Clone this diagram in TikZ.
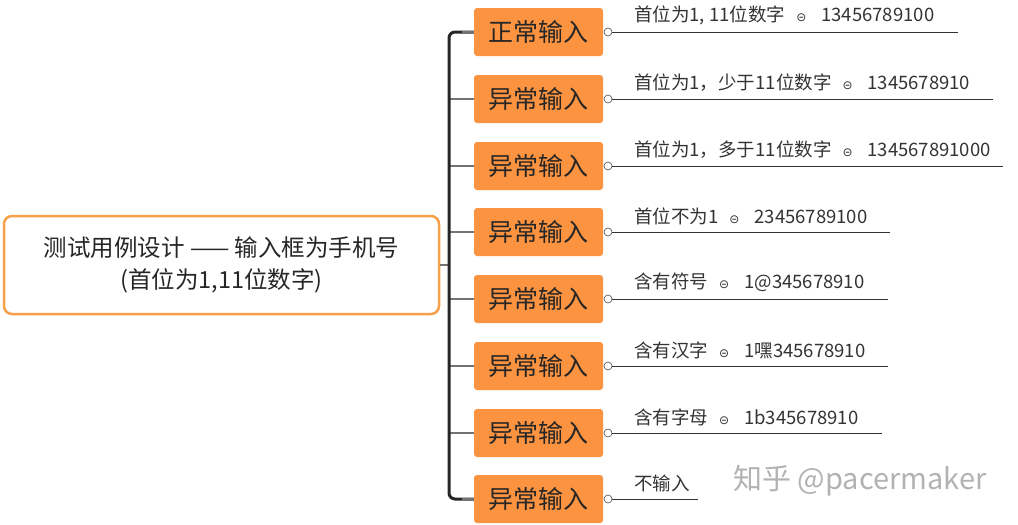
\documentclass[tikz,border=0pt]{standalone}
\usepackage{fontspec}
\setmainfont{Noto Sans CJK SC}
\newfontfamily\dv{DejaVu Sans}
\newcommand{\sepmark}{\hspace{11pt}{\dv\fontsize{12}{12}\selectfont ⊝}\hspace{15pt}}
\begin{document}
\begin{tikzpicture}[x=1pt,y=-1pt,
  box/.style={fill=boxc, rounded corners=3pt, minimum width=129pt, minimum height=48pt, inner sep=0pt, font=\fontsize{25}{25}\selectfont, text=black!85},
  lbl/.style={anchor=south west, inner sep=0pt, font=\fontsize{18.5}{18.5}\selectfont, text=black!80},
  br/.style={draw=black!55, line width=1.5pt},
  dot/.style={circle, draw=black!70, fill=white, inner sep=0pt, minimum size=8pt, line width=0.6pt}]
\definecolor{boxc}{HTML}{FC9340}
\definecolor{rootc}{HTML}{F7A04A}
\useasboundingbox (0,0) rectangle (1018,525);
\node[draw=rootc, line width=2.5pt, rounded corners=8pt, minimum width=435pt, minimum height=98pt, align=center, font=\fontsize{23.5}{32}\selectfont, text=black!85] (root) at (221.5,265) {测试用例设计 —— 输入框为手机号\\(首位为1,11位数字)};
\coordinate (t1) at (449,32);
\coordinate (t8) at (449,499);
\foreach \i/\y/\t/\l/\e in {1/32/正常输入/{首位为1, 11位数字\sepmark 13456789100}/958,
 2/99/异常输入/{首位为1，少于11位数字\sepmark 1345678910}/993,
 3/166/异常输入/{首位为1，多于11位数字\sepmark 134567891000}/1003,
 4/232/异常输入/{首位不为1\sepmark 23456789100}/890,
 5/299/异常输入/{含有符号\sepmark 1@345678910}/888,
 6/366/异常输入/{含有汉字\sepmark 1嘿345678910}/888,
 7/433/异常输入/{含有字母\sepmark 1b345678910}/882,
 8/499/异常输入/{不输入}/698}{
  \node[box] (b\i) at (538.5,\y) {\t};
  \node[dot] (d\i) at (608,\y) {};
  \coordinate (e\i) at (\e,\y);
  \draw[black!80, line width=0.8pt] (d\i) -- (e\i);
  \node[lbl] (l\i) at (634,\y-7) {\l};
  \coordinate (j\i) at (449,\y);
}
\foreach \i in {2,...,7}{\draw[br] (j\i) -- (b\i.west);}
\draw[br] (root.east) -- (449,265);
\draw[draw=black!85, line width=3pt, rounded corners=6pt] (b1.west) -- (t1) -- (t8) -- (b8.west);
\draw[black!55, line width=1.5pt] (462,32) -- (b1.west) (462,499) -- (b8.west);
\node[text=black!30, font=\fontsize{29}{29}\selectfont] (wm) at (860,481) {知乎 @pacermaker};
\end{tikzpicture}
\end{document}
